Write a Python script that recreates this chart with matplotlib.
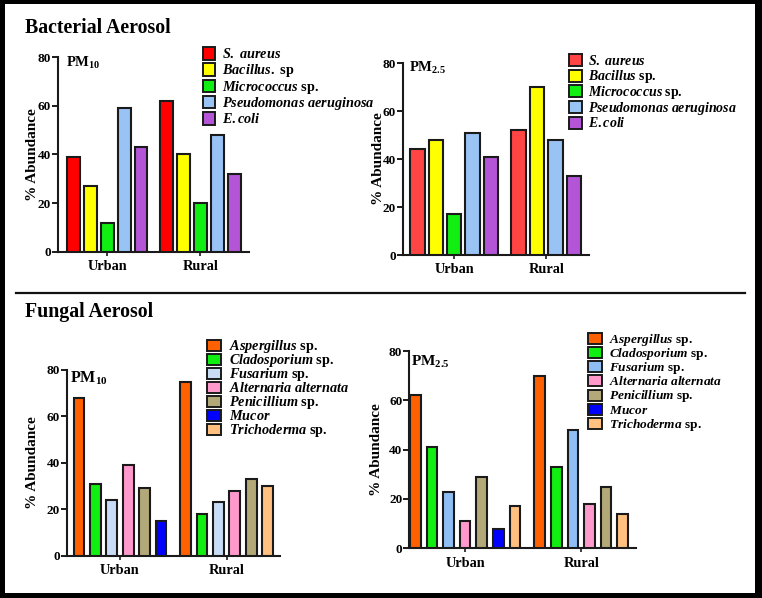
import matplotlib
matplotlib.use('Agg')
import matplotlib.pyplot as plt
from matplotlib.patches import Rectangle
from matplotlib.lines import Line2D
import numpy as np

# ---------------- data ----------------
groups = ['Urban', 'Rural']

bact_labels_pm10 = [r'$\mathit{S.\ aureus}$', r'$\mathit{Bacillus.}$ sp', r'$\mathit{Micrococcus}$ sp.',
                    r'$\mathit{Pseudomonas\ aeruginosa}$', r'$\mathit{E.coli}$']
bact_labels_pm25 = [r'$\mathit{S.\ aureus}$', r'$\mathit{Bacillus}$ sp.', r'$\mathit{Micrococcus}$ sp.',
                    r'$\mathit{Pseudomonas\ aeruginosa}$', r'$\mathit{E.coli}$']
fung_labels = [r'$\mathit{Aspergillus}$ sp.', r'$\mathit{Cladosporium}$ sp.', r'$\mathit{Fusarium}$ sp.',
               r'$\mathit{Alternaria\ alternata}$', r'$\mathit{Penicillium}$ sp.', r'$\mathit{Mucor}$',
               r'$\mathit{Trichoderma}$ sp.']

bact_pm10_urban = [39, 27, 12, 59, 43]
bact_pm10_rural = [62, 40, 20, 48, 32]
bact_pm25_urban = [44, 48, 17, 51, 41]
bact_pm25_rural = [52, 70, None, 48, 33]
fung_pm10_urban = [68, 31, 24, 39, 29, 15, None]
fung_pm10_rural = [75, 18, 23, 28, 33, None, 30]
fung_pm25_urban = [62, 41, 23, 11, 29, 8, 17]
fung_pm25_rural = [70, 33, 48, 18, 25, None, 14]

yticks = [0, 20, 40, 60, 80]

# ---------------- style ----------------
bact_colors_pm10 = ['#FF0000', '#FFFF00', '#11EE11', '#99C2F5', '#B455D8']
bact_colors_pm25 = ['#FF4444', '#FFFF00', '#11EE11', '#99C2F5', '#B455D8']
fung_colors_pm10 = ['#FF6000', '#11EE11', '#C8DCF5', '#FF99CC', '#B2A878', '#0000FF', '#FFC080']
fung_colors_pm25 = ['#FF6000', '#11EE11', '#8FBEF5', '#FF99CC', '#B2A878', '#0000FF', '#FFC080']

W, H = 762, 598
plt.rcParams.update({
    'font.family': 'Liberation Serif',
    'font.weight': 'bold',
    'mathtext.fontset': 'custom',
    'mathtext.rm': 'Liberation Serif:bold',
    'mathtext.it': 'Liberation Serif:italic:bold',
    'mathtext.bf': 'Liberation Serif:bold',
})

fig = plt.figure(figsize=(W / 100, H / 100), dpi=100, facecolor='black')
fig.add_artist(Rectangle((5 / W, 5 / H), 750 / W, 589 / H, transform=fig.transFigure,
                         facecolor='white', edgecolor='none', zorder=-10))

EDGE = '#1a1a1a'


def fx(x):
    return x / W


def fy(y):
    return 1 - y / H


def legend(colors, labels, px, py0, pitch, pw, ph, tx, size):
    fpx = size * 100 / 72
    for k, (c, lab) in enumerate(zip(colors, labels)):
        yc = py0 + k * pitch
        fig.add_artist(Rectangle((fx(px), fy(yc + ph / 2)), pw / W, ph / H, transform=fig.transFigure,
                                 facecolor=c, edgecolor=EDGE, linewidth=1.4))
        fig.text(fx(tx), fy(yc + 0.33 * fpx), lab, fontsize=size, ha='left', va='baseline')


def panel(box, urban, rural, colors, width, xlim, pm_text, pm_xy, pm_size, ylab_x):
    x0, x1, ytop, ybot = box
    ax = fig.add_axes([fx(x0), fy(ybot), (x1 - x0) / W, (ybot - ytop) / H])
    ax.set_facecolor('none')
    u_idx = [i for i, v in enumerate(urban) if v is not None]
    r_idx = [i for i, v in enumerate(rural) if v is not None]
    u_pos = np.arange(len(u_idx), dtype=float)
    r_pos = u_pos[-1] + 1.5 + np.arange(len(r_idx), dtype=float)
    for p, i in zip(u_pos, u_idx):
        ax.bar(p, urban[i], width=width, color=colors[i], edgecolor=EDGE, linewidth=1.5, zorder=3)
    for p, i in zip(r_pos, r_idx):
        ax.bar(p, rural[i], width=width, color=colors[i], edgecolor=EDGE, linewidth=1.5, zorder=3)
    ax.set_xticks([u_pos.mean(), r_pos.mean()])
    ax.set_xticklabels(groups, fontsize=10.3)
    ax.set_xlim(*xlim)
    ax.set_ylim(0, 80)
    ax.set_yticks(yticks)
    ax.tick_params(axis='y', length=4, width=1.4, labelsize=9.5, pad=1, color=EDGE)
    ax.tick_params(axis='x', length=3, width=1.2, labelsize=10.3, pad=3, color=EDGE)
    for s in ['top', 'right']:
        ax.spines[s].set_visible(False)
    for s in ['left', 'bottom']:
        ax.spines[s].set_linewidth(1.5)
        ax.spines[s].set_color(EDGE)
    fig.text(fx(pm_xy[0]), fy(pm_xy[1]), pm_text, fontsize=pm_size, ha='left', va='center')
    fig.text(fx(ylab_x), fy((ytop + ybot) / 2), '% Abundance', fontsize=11, rotation=90,
             ha='center', va='center')
    return ax


panel((58, 249, 57, 252), bact_pm10_urban, bact_pm10_rural, bact_colors_pm10,
      0.76, (-0.9, 10.37), r'PM$_{\mathrm{10}}$', (66, 63), 10.5, 32)
legend(bact_colors_pm10, bact_labels_pm10, 202.7, 53.3, 16.3, 12.5, 12.5, 222, 10.3)

panel((403, 589, 63, 255), bact_pm25_urban, bact_pm25_rural, bact_colors_pm25,
      0.78, (-0.78, 9.33), r'PM$_{\mathrm{2.5}}$', (409, 68), 10.5, 378)
legend(bact_colors_pm25, bact_labels_pm25, 569, 60, 15.7, 13, 12, 588, 10)

panel((66.7, 280, 370, 555.7), fung_pm10_urban, fung_pm10_rural, fung_colors_pm10,
      0.66, (-0.75, 12.26), r'PM$_{\mathrm{10}}$', (70, 378), 11.5, 33)
legend(fung_colors_pm10, fung_labels, 206.7, 345, 14, 14, 11, 229, 10.3)

panel((409.3, 635.7, 351, 548.3), fung_pm25_urban, fung_pm25_rural, fung_colors_pm25,
      0.64, (-0.36, 13.28), r'PM$_{\mathrm{2.5}}$', (411, 362), 11, 377)
legend(fung_colors_pm25, fung_labels, 588.3, 338.3, 14.2, 14, 11, 609, 9.6)

# titles and divider
fig.text(fx(25), fy(33), 'Bacterial Aerosol', fontsize=14.3, ha='left', va='baseline')
fig.text(fx(25), fy(317), 'Fungal Aerosol', fontsize=14.3, ha='left', va='baseline')
fig.add_artist(Line2D([fx(16), fx(745)], [fy(292.7), fy(292.7)], transform=fig.transFigure,
                      color='#111111', linewidth=1.6))

fig.savefig('out.png', dpi=100, facecolor=fig.get_facecolor())
